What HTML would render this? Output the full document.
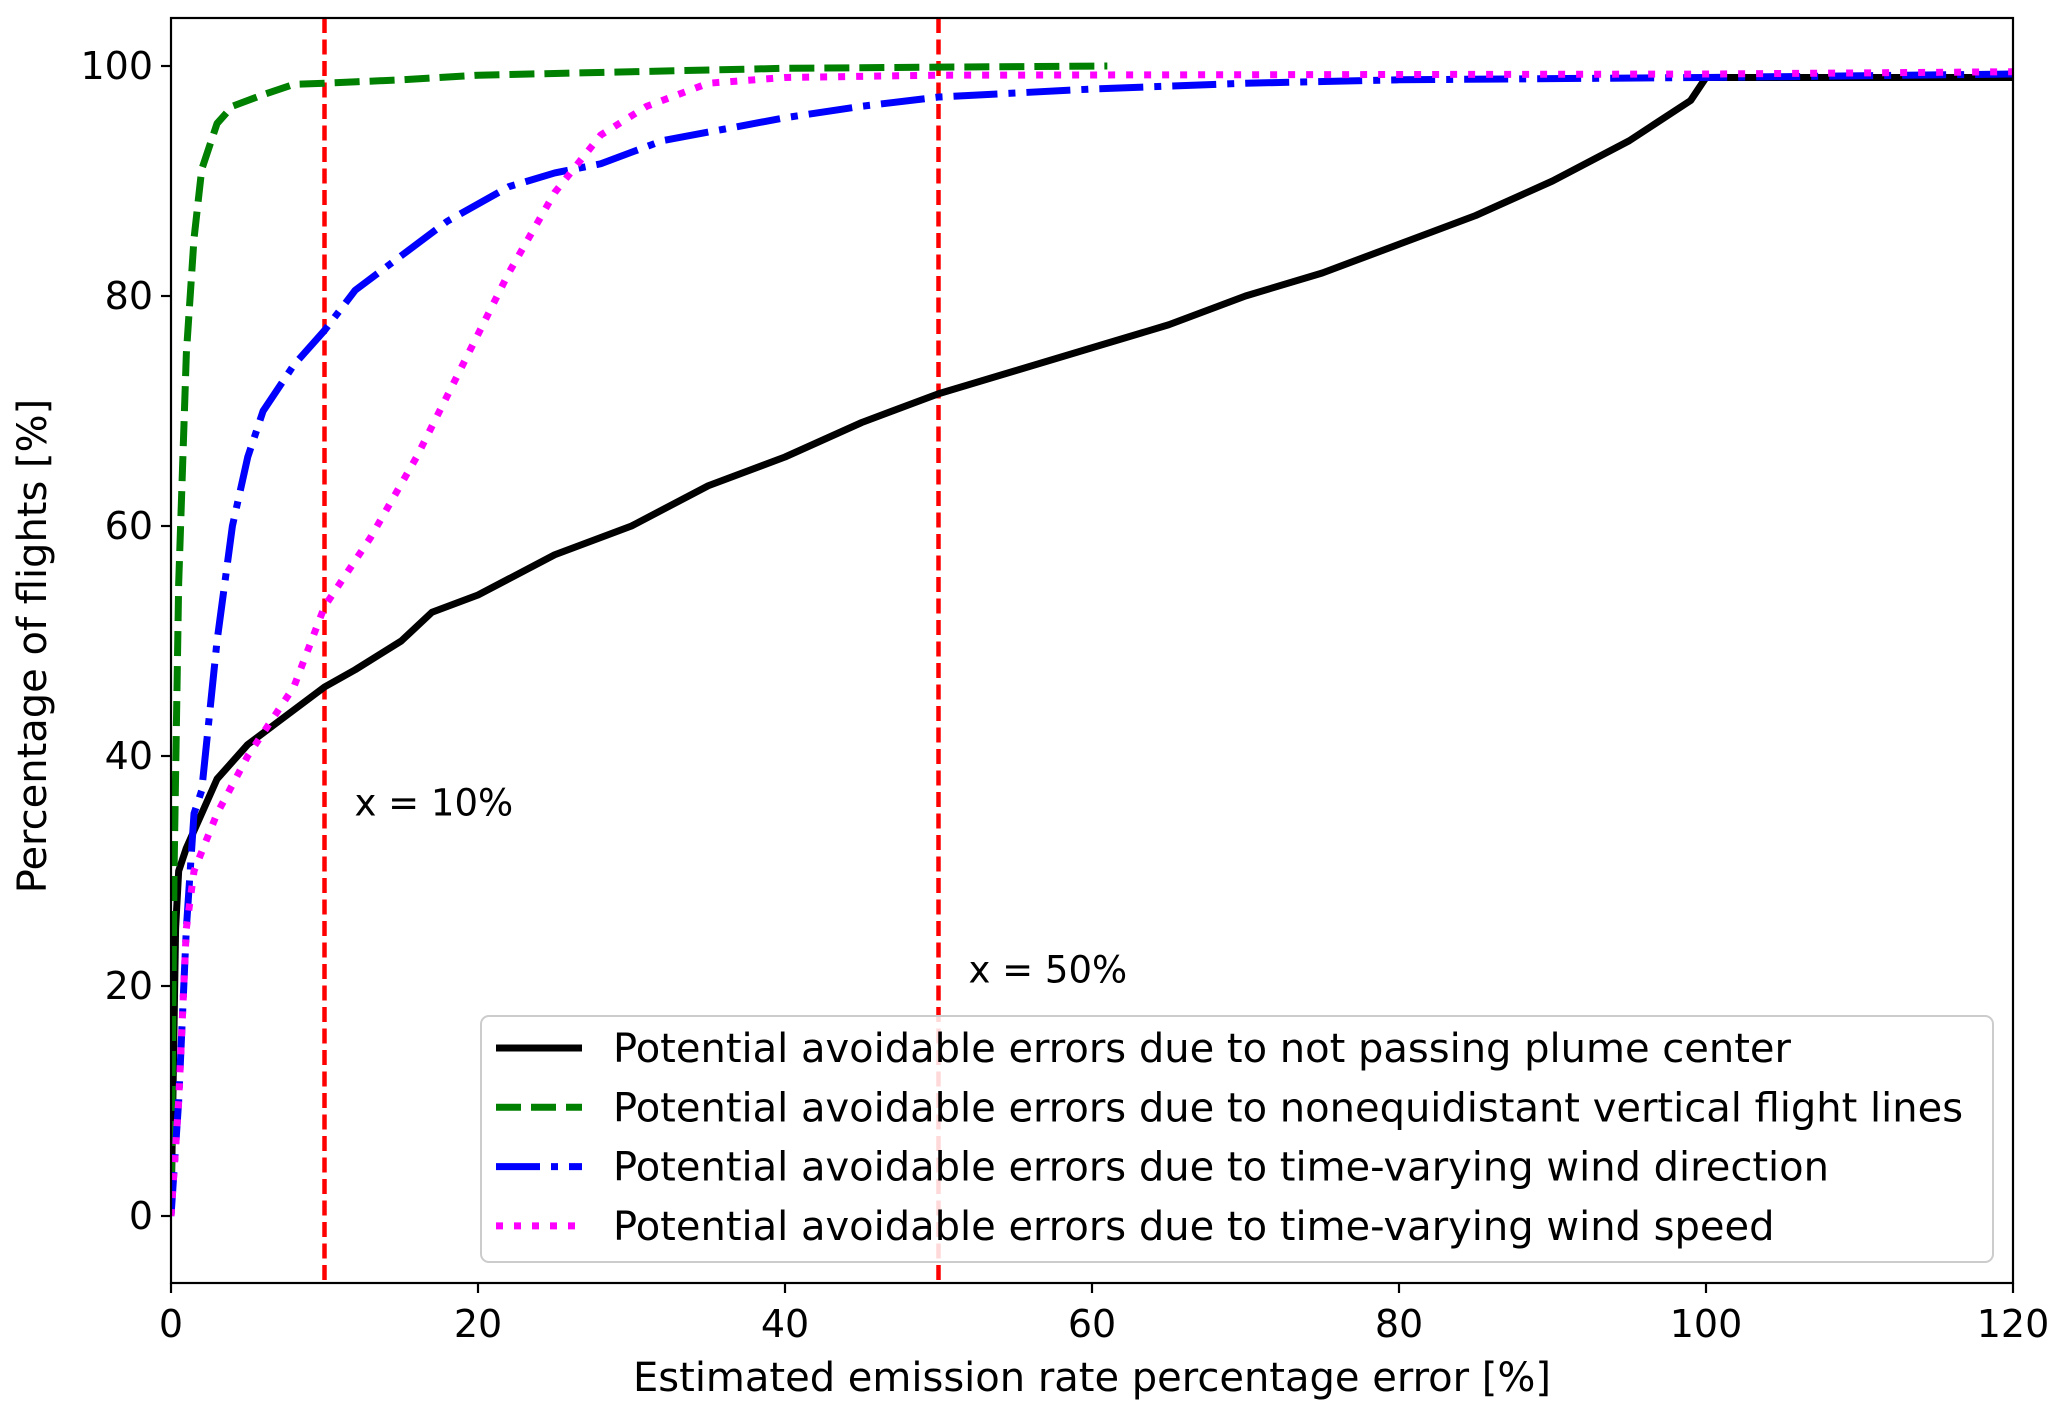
<!DOCTYPE html>
<html><head><meta charset="utf-8"><style>
body{margin:0;background:#fff}
svg text{font-family:"DejaVu Sans","Liberation Sans",sans-serif;fill:#000}
</style></head><body>
<svg id="chart" width="2067" height="1417" xmlns="http://www.w3.org/2000/svg"></svg>
<script>
const xTicks=[0,20,40,60,80,100,120];
const yTicks=[0,20,40,60,80,100];
const blackX=[0,0.3,0.5,1,2,3,5,7,10,12,15,17,20,25,30,35,40,45,50,55,60,65,70,75,80,85,90,95,99,100,120];
const blackY=[0,25,30,32,35,38,41,43,46,47.5,50,52.5,54,57.5,60,63.5,66,69,71.5,73.5,75.5,77.5,80,82,84.5,87,90,93.5,97,99,99];
const greenX=[0,0.2,0.5,1,1.5,2,3,4,6,8,10,15,20,30,40,50,61];
const greenY=[0,30,55,75,85,91,95,96.5,97.5,98.4,98.5,98.8,99.2,99.5,99.8,99.9,100];
const blueX=[0,0.5,1,1.5,2,3,4,5,6,8,10,12,15,18,22,25,28,32,36,40,45,50,60,70,80,100,120];
const blueY=[0,10,25,35,37,50,60,66,70,74,77,80.5,83.5,86.5,89.5,90.7,91.5,93.5,94.5,95.5,96.5,97.3,98,98.5,98.8,99,99.3];
const magX=[0,0.5,1,1.5,3,5,8,10,13,16,19,22,25,28,31,35,40,50,100,120];
const magY=[0,10,25,30,35,40,46,53,59,66,74,82,89,94,96.5,98.5,99,99.2,99.3,99.5];
const vLines=[10,50];
const vLabels=["x = 10%","x = 50%"];
const vLabelY=[35,20.5];
const legendLabels=["Potential avoidable errors due to not passing plume center","Potential avoidable errors due to nonequidistant vertical flight lines","Potential avoidable errors due to time-varying wind direction","Potential avoidable errors due to time-varying wind speed"];

const L=171,R=2013,T=18,B=1283;
const sx=v=>L+v*(R-L)/120;
const sy=v=>1216-v*11.5;
const NS="http://www.w3.org/2000/svg";
const svg=document.getElementById('chart');
function mk(tag,attrs,parent){const e=document.createElementNS(NS,tag);for(const k in attrs)e.setAttribute(k,attrs[k]);(parent||svg).appendChild(e);return e;}

const clip=mk('clipPath',{id:'c'});mk('rect',{x:L,y:T,width:R-L,height:B-T},clip);
const plot=mk('g',{'clip-path':'url(#c)'});



const series=[
 {x:blackX,y:blackY,c:'#000',d:'',n:'series-plume-center'},
 {x:greenX,y:greenY,c:'#008000',d:'25 10',n:'series-flight-lines'},
 {x:blueX,y:blueY,c:'#0000ff',d:'44 11 7 11',n:'series-wind-direction'},
 {x:magX,y:magY,c:'#ff00ff',d:'7 11',n:'series-wind-speed'}];
vLines.forEach((v,i)=>{const l=mk('line',{x1:sx(v),x2:sx(v),y1:T,y2:B,stroke:'#ff0000','stroke-width':4.5,'stroke-dasharray':'15 6.5'},plot);
 
 });
series.forEach(s=>{const p=s.x.map((v,i)=>sx(v)+','+sy(s.y[i])).join(' ');
 const e=mk('polyline',{points:p,fill:'none',stroke:s.c,'stroke-width':7,'stroke-dasharray':s.d,'stroke-linejoin':'round'},plot);
 
 });
vLines.forEach((v,i)=>{const t=mk('text',{x:sx(v)+30,y:sy(vLabelY[i])+2,'font-size':37});t.textContent=vLabels[i];
 
 });

// legend
const lg=mk('g',{});


mk('rect',{x:481,y:1016,width:1512,height:246,rx:8,fill:'#fff','fill-opacity':0.85,stroke:'#ccc','stroke-width':2},lg);
legendLabels.forEach((t,i)=>{const y=1048+i*59.3;
 const ln=mk('line',{x1:496,x2:582,y1:y,y2:y,stroke:series[i].c,'stroke-width':7,'stroke-dasharray':series[i].d},lg);
 
 
 const tx=mk('text',{x:613,y:y+14,'font-size':40},lg);tx.textContent=t;
 
 });

// axes
const fr=mk('rect',{x:L,y:T,width:R-L,height:B-T,fill:'none',stroke:'#000','stroke-width':2.2});


xTicks.forEach(v=>{mk('line',{x1:sx(v),x2:sx(v),y1:B,y2:B+10,stroke:'#000','stroke-width':2.2});
 const t=mk('text',{x:sx(v),y:B+54,'font-size':38,'text-anchor':'middle'});t.textContent=v;
 
 });
yTicks.forEach(v=>{mk('line',{x1:L-10,x2:L,y1:sy(v),y2:sy(v),stroke:'#000','stroke-width':2.2});
 const t=mk('text',{x:L-18,y:sy(v)+13,'font-size':38,'text-anchor':'end'});t.textContent=v;
 
 });
const xt=mk('text',{x:1092,y:1391,'font-size':40,'text-anchor':'middle'});xt.textContent='Estimated emission rate percentage error [%]';


const yt=mk('text',{x:0,y:0,'font-size':40,'text-anchor':'middle',transform:'translate(46,646) rotate(-90)'});yt.textContent='Percentage of flights [%]';


</script>
</body></html>
